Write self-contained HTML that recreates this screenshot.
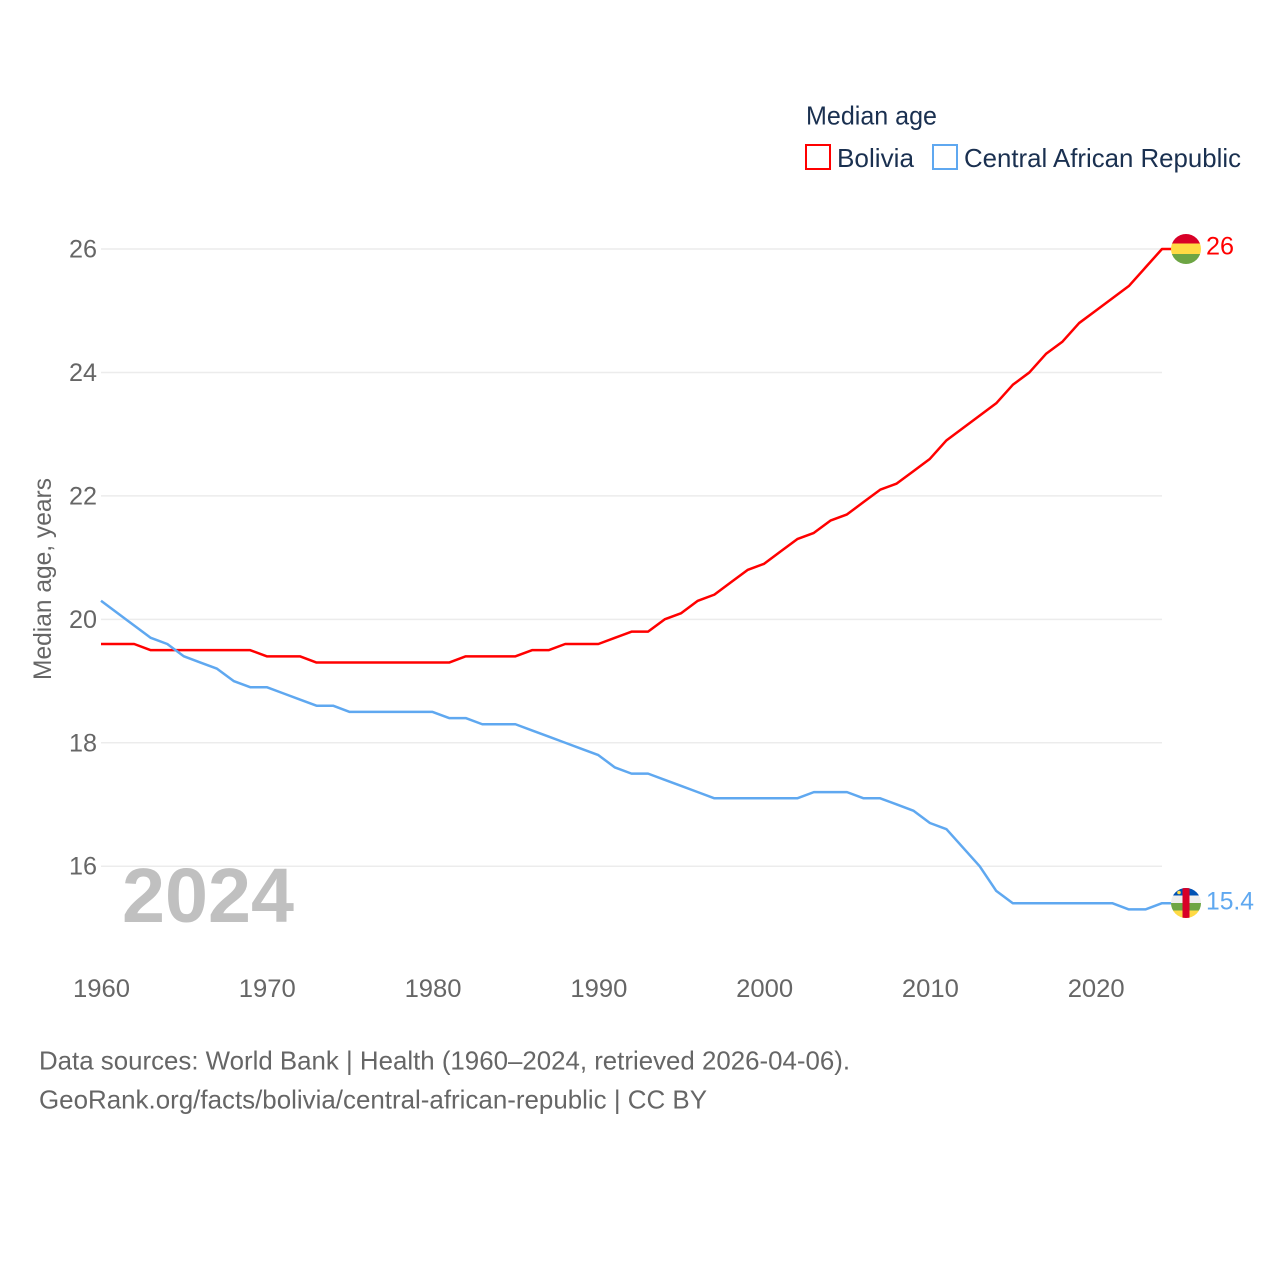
<!DOCTYPE html>
<html lang="en">
<head>
<meta charset="utf-8">
<title>Median age: Bolivia and Central African Republic</title>
<style>
  html, body { margin: 0; padding: 0; background: #fff; }
  svg { display: block; }
  text { font-family: "Liberation Sans", sans-serif; }
</style>
</head>
<body>
<svg id="chart" xmlns="http://www.w3.org/2000/svg" width="1280" height="1280" viewBox="0 0 1280 1280">
  <defs>
    <clipPath id="flag-clip-bo"><circle cx="1186" cy="249" r="15"/></clipPath>
    <clipPath id="flag-clip-cf"><circle cx="1186" cy="903" r="15"/></clipPath>
  </defs>
  <rect width="1280" height="1280" fill="#ffffff"/>
  <g id="grid"></g>
  <g id="y-ticks"></g>
  <g id="x-ticks"></g>

  <text transform="translate(51,680) rotate(-90)" font-size="25" fill="#666666" textLength="202" lengthAdjust="spacingAndGlyphs">Median age, years</text>

  <text x="122" y="922" font-size="77" font-weight="bold" fill="#c0c0c0" textLength="172" lengthAdjust="spacingAndGlyphs">2024</text>

  <g>
    <text x="806" y="124.5" font-size="26" fill="#1a3050" textLength="131" lengthAdjust="spacingAndGlyphs">Median age</text>
    <rect x="806" y="145" width="24" height="24" fill="none" stroke="#ff0000" stroke-width="2"/>
    <text x="837" y="167" font-size="26" fill="#1a3050" textLength="77" lengthAdjust="spacingAndGlyphs">Bolivia</text>
    <rect x="933" y="145" width="24" height="24" fill="none" stroke="#5fa8f0" stroke-width="2"/>
    <text x="964" y="167" font-size="26" fill="#1a3050" textLength="277" lengthAdjust="spacingAndGlyphs">Central African Republic</text>
  </g>

  <path id="line-bolivia" fill="none" stroke="#ff0000" stroke-width="2.5" stroke-linejoin="round"/>
  <path id="line-car" fill="none" stroke="#5fa8f0" stroke-width="2.5" stroke-linejoin="round"/>

  <g clip-path="url(#flag-clip-bo)">
    <rect x="1171" y="234" width="30" height="10" fill="#d80027"/>
    <rect x="1171" y="243.5" width="30" height="10.5" fill="#ffda44"/>
    <rect x="1171" y="254" width="30" height="10" fill="#6da544"/>
  </g>
  <g clip-path="url(#flag-clip-cf)">
    <rect x="1171" y="888" width="30" height="7.5" fill="#0052b4"/>
    <rect x="1171" y="895.5" width="30" height="7.5" fill="#eeeeee"/>
    <rect x="1171" y="903" width="30" height="7.5" fill="#6da544"/>
    <rect x="1171" y="910.5" width="30" height="7.5" fill="#ffda44"/>
    <rect x="1182.5" y="888" width="7" height="30" fill="#d80027"/>
    <circle cx="1179" cy="892.5" r="1.8" fill="#ffda44"/>
  </g>

  <text id="end-label-bolivia" x="1206" y="254.5" font-size="25" fill="#ff0000" textLength="28" lengthAdjust="spacingAndGlyphs"></text>
  <text id="end-label-car" x="1206" y="909.5" font-size="25" fill="#5fa8f0" textLength="48" lengthAdjust="spacingAndGlyphs"></text>

  <g>
    <text x="39" y="1069.5" font-size="26" fill="#666666" textLength="811" lengthAdjust="spacingAndGlyphs">Data sources: World Bank | Health (1960–2024, retrieved 2026-04-06).</text>
    <text x="39" y="1108.5" font-size="26" fill="#666666" textLength="668" lengthAdjust="spacingAndGlyphs">GeoRank.org/facts/bolivia/central-african-republic | CC BY</text>
  </g>
</svg>
<script>
const years = [1960,1961,1962,1963,1964,1965,1966,1967,1968,1969,1970,1971,1972,1973,1974,1975,1976,1977,1978,1979,1980,1981,1982,1983,1984,1985,1986,1987,1988,1989,1990,1991,1992,1993,1994,1995,1996,1997,1998,1999,2000,2001,2002,2003,2004,2005,2006,2007,2008,2009,2010,2011,2012,2013,2014,2015,2016,2017,2018,2019,2020,2021,2022,2023,2024];
const boliviaValues = [19.6,19.6,19.6,19.5,19.5,19.5,19.5,19.5,19.5,19.5,19.4,19.4,19.4,19.3,19.3,19.3,19.3,19.3,19.3,19.3,19.3,19.3,19.4,19.4,19.4,19.4,19.5,19.5,19.6,19.6,19.6,19.7,19.8,19.8,20.0,20.1,20.3,20.4,20.6,20.8,20.9,21.1,21.3,21.4,21.6,21.7,21.9,22.1,22.2,22.4,22.6,22.9,23.1,23.3,23.5,23.8,24.0,24.3,24.5,24.8,25.0,25.2,25.4,25.7,26.0];
const carValues = [20.3,20.1,19.9,19.7,19.6,19.4,19.3,19.2,19.0,18.9,18.9,18.8,18.7,18.6,18.6,18.5,18.5,18.5,18.5,18.5,18.5,18.4,18.4,18.3,18.3,18.3,18.2,18.1,18.0,17.9,17.8,17.6,17.5,17.5,17.4,17.3,17.2,17.1,17.1,17.1,17.1,17.1,17.1,17.2,17.2,17.2,17.1,17.1,17.0,16.9,16.7,16.6,16.3,16.0,15.6,15.4,15.4,15.4,15.4,15.4,15.4,15.4,15.3,15.3,15.4];
const yTickValues = [16,18,20,22,24,26];
const xTickValues = [1960,1970,1980,1990,2000,2010,2020];

const svgNS = 'http://www.w3.org/2000/svg';
function xScale(year) { return 101 + (year - 1960) * (1162 - 101) / 64; }
function yScale(value) { return 249 + (26 - value) * 61.72; }

const gridGroup = document.getElementById('grid');
const yTickGroup = document.getElementById('y-ticks');
const xTickGroup = document.getElementById('x-ticks');

yTickValues.forEach(function (tick) {
  const gridLine = document.createElementNS(svgNS, 'line');
  
  
  gridLine.setAttribute('x1', 101);
  gridLine.setAttribute('x2', 1162);
  gridLine.setAttribute('y1', yScale(tick));
  gridLine.setAttribute('y2', yScale(tick));
  gridLine.setAttribute('stroke', '#ececec');
  gridLine.setAttribute('stroke-width', 1.5);
  gridGroup.appendChild(gridLine);

  const label = document.createElementNS(svgNS, 'text');
  
  
  label.setAttribute('x', 69);
  label.setAttribute('y', yScale(tick) + 8.5);
  label.setAttribute('font-size', 25);
  label.setAttribute('fill', '#666666');
  label.setAttribute('textLength', 28);
  label.setAttribute('lengthAdjust', 'spacingAndGlyphs');
  label.textContent = tick;
  yTickGroup.appendChild(label);
});

xTickValues.forEach(function (tick) {
  const label = document.createElementNS(svgNS, 'text');
  
  
  label.setAttribute('x', xScale(tick) - 28);
  label.setAttribute('y', 997);
  label.setAttribute('font-size', 25);
  label.setAttribute('fill', '#666666');
  label.setAttribute('textLength', 57);
  label.setAttribute('lengthAdjust', 'spacingAndGlyphs');
  label.textContent = tick;
  xTickGroup.appendChild(label);
});

function linePath(values) {
  let d = values.map(function (v, i) {
    return (i ? 'L' : 'M') + xScale(years[i]).toFixed(2) + ' ' + yScale(v).toFixed(2);
  }).join(' ');
  d += ' H1172';
  return d;
}
document.getElementById('line-bolivia').setAttribute('d', linePath(boliviaValues));
document.getElementById('line-car').setAttribute('d', linePath(carValues));
document.getElementById('end-label-bolivia').textContent = boliviaValues[boliviaValues.length - 1];
document.getElementById('end-label-car').textContent = carValues[carValues.length - 1];
</script>
</body>
</html>
